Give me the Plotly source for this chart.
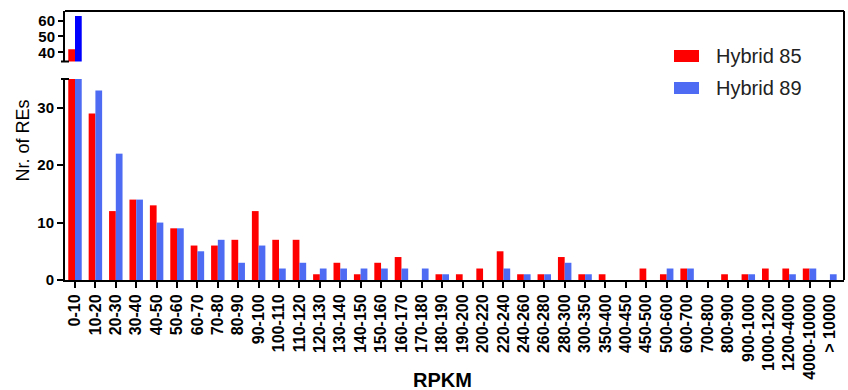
import plotly.graph_objects as go

# ---------------- data ----------------
categories = ["0-10", "10-20", "20-30", "30-40", "40-50", "50-60", "60-70", "70-80",
              "80-90", "90-100", "100-110", "110-120", "120-130", "130-140", "140-150",
              "150-160", "160-170", "170-180", "180-190", "190-200", "200-220", "220-240",
              "240-260", "260-280", "280-300", "300-350", "350-400", "400-450", "450-500",
              "500-600", "600-700", "700-800", "800-900", "900-1000", "1000-1200",
              "1200-4000", "4000-10000", "> 10000"]
hybrid85 = [42, 29, 12, 14, 13, 9, 6, 6, 7, 12, 7, 7, 1, 3, 1, 3, 4, 0, 1, 1, 2, 5,
            1, 1, 4, 1, 1, 0, 2, 1, 2, 0, 1, 1, 2, 2, 2, 0]
hybrid89 = [63, 33, 22, 14, 10, 9, 5, 7, 3, 6, 2, 3, 2, 2, 2, 2, 2, 2, 1, 0, 0, 2,
            1, 1, 3, 1, 0, 0, 0, 2, 2, 0, 0, 1, 0, 1, 2, 1]
series_names = ["Hybrid 85", "Hybrid 89"]
bottom_ticks = [0, 10, 20, 30]
top_ticks = [40, 50, 60]

# ---------------- style ----------------
RED = "#ff0000"
BLUE = "#4d6cf3"
BLUE_TOP = "#0000ff"
FONT = "Arial, 'Liberation Sans', sans-serif"

W, H = 848, 390
L, R, T, B = 65, 4, 11, 110
PW, PH = W - L - R, H - T - B


def px(x):
    return (x - L) / PW


def py(y):
    return (H - B - y) / PH


fig = go.Figure()
for vals, name, c_bot, c_top in [(hybrid85, series_names[0], RED, RED),
                                 (hybrid89, series_names[1], BLUE, BLUE_TOP)]:
    fig.add_trace(go.Bar(x=categories, y=vals, name=name, marker_color=c_bot,
                         marker_line_width=0, xaxis="x", yaxis="y", showlegend=False))
    fig.add_trace(go.Bar(x=categories, y=vals, name=name, marker_color=c_top,
                         marker_line_width=0, xaxis="x2", yaxis="y2", showlegend=False))

axis_common = dict(showgrid=False, zeroline=False, showline=True, linecolor="black",
                   linewidth=2, ticks="outside", tickcolor="black", tickwidth=2)

fig.update_layout(
    width=W, height=H,
    margin=dict(l=L, r=R, t=T, b=B, pad=0),
    plot_bgcolor="white", paper_bgcolor="white",
    barmode="group", bargap=0.34, bargroupgap=0,
    font=dict(family=FONT, color="black"),
    xaxis=dict(domain=[0, 1], anchor="y", type="category", range=[-0.49, 37.69],
               tickangle=-90, ticklen=6,
               tickfont=dict(family=FONT, size=16, color="black", weight="bold"),
               **axis_common),
    yaxis=dict(domain=[0, py(79)], anchor="x", range=[0, 35], tickvals=bottom_ticks,
               ticklen=6, tickfont=dict(family=FONT, size=15, color="black", weight="bold"),
               **axis_common),
    xaxis2=dict(domain=[0, 1], anchor="y2", type="category", matches="x",
                showticklabels=False, showline=False, ticks="", showgrid=False,
                zeroline=False),
    yaxis2=dict(domain=[py(61.5), 1], anchor="x2", range=[34.2, 66.1], tickvals=top_ticks,
                ticklen=5, tickfont=dict(family=FONT, size=15, color="black", weight="bold"),
                **axis_common),
)

shapes = [
    # frame: top and right
    dict(type="line", xref="paper", yref="paper", x0=0, x1=1, y0=1, y1=1,
         line=dict(color="black", width=2)),
    dict(type="line", xref="paper", yref="paper", x0=1, x1=1, y0=0, y1=1,
         line=dict(color="black", width=2)),
    # axis break caps
    dict(type="line", xref="paper", yref="paper", x0=px(61), x1=px(69),
         y0=py(61.5), y1=py(61.5), line=dict(color="black", width=2)),
    dict(type="line", xref="paper", yref="paper", x0=px(61), x1=px(69),
         y0=py(79), y1=py(79), line=dict(color="black", width=2)),
    # legend swatches
    dict(type="rect", xref="paper", yref="paper", x0=px(674), x1=px(699),
         y0=py(62), y1=py(50), fillcolor=RED, line=dict(width=0)),
    dict(type="rect", xref="paper", yref="paper", x0=px(674), x1=px(699),
         y0=py(94), y1=py(82), fillcolor=BLUE, line=dict(width=0)),
]
fig.update_layout(shapes=shapes)

annotations = [
    dict(text=series_names[0], xref="paper", yref="paper", x=px(714), y=py(56),
         xanchor="left", yanchor="middle", showarrow=False,
         font=dict(family=FONT, size=20, color="#222")),
    dict(text=series_names[1], xref="paper", yref="paper", x=px(714), y=py(88),
         xanchor="left", yanchor="middle", showarrow=False,
         font=dict(family=FONT, size=20, color="#222")),
    dict(text="Nr. of REs", xref="paper", yref="paper", x=px(22.5), y=py(141),
         xanchor="center", yanchor="middle", textangle=-90, showarrow=False,
         font=dict(family=FONT, size=18, color="black")),
    dict(text="RPKM", xref="paper", yref="paper", x=px(442), y=py(380),
         xanchor="center", yanchor="middle", showarrow=False,
         font=dict(family=FONT, size=20, color="black", weight="bold")),
]
fig.update_layout(annotations=annotations)

fig.write_html("out.html")
